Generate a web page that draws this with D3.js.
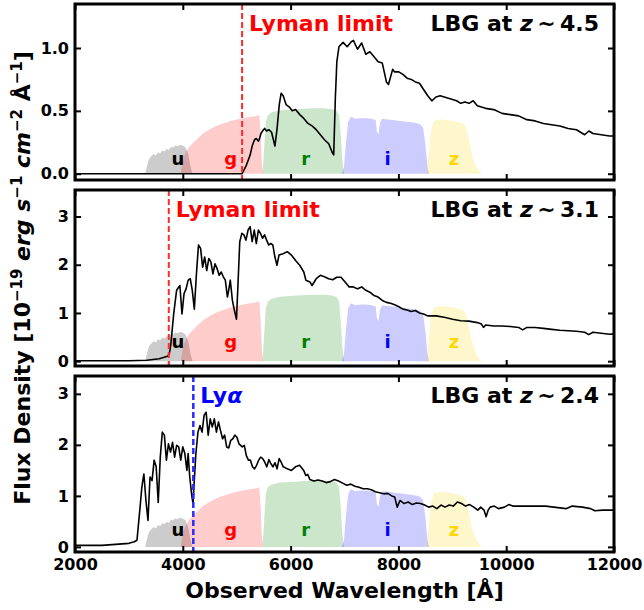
<!DOCTYPE html>
<html>
<head>
<meta charset="utf-8">
<script src="https://cdn.jsdelivr.net/npm/d3@7"></script>
<style>
  body { margin: 0; background: #fff; }
  text { font-family: "DejaVu Sans", sans-serif; font-weight: bold; }
</style>
</head>
<body>
<div id="container"></div>
<script>
// ---- data ----
let redshifts = ["4.5", "3.1", "2.4"];
let breakLabels = ["Lyman limit", "Lyman limit", "Ly"];
let breakWaves = [5100, 3740, 4195];
let yDomains = [[-0.05, 1.35], [-0.1, 3.55], [-0.1, 3.35]];
let yTicks = [[0, 0.5, 1.0], [0, 1, 2, 3], [0, 1, 2, 3]];
let xTicks = [2000, 4000, 6000, 8000, 10000, 12000];
let filterScale = [0.52, 1.38, 1.30];
let filterLabelY = [0.07, 0.27, 0.22];

let bandNames = ["u", "g", "r", "i", "z"];
let bandLabelWaves = [3910, 4890, 6280, 7800, 9030];

// filter responses, normalised to the r band peak
let filterU = [[3300,0],[3330,0.1],[3370,0.22],[3420,0.27],[3460,0.3],[3500,0.28],[3540,0.33],[3580,0.31],[3620,0.36],[3660,0.34],[3700,0.38],[3740,0.36],[3780,0.41],[3820,0.4],[3860,0.43],[3900,0.42],[3950,0.44],[4000,0.43],[4050,0.4],[4100,0.3],[4140,0.12],[4180,0]];
let filterG = [[3960,0],[3985,0.12],[4020,0.26],[4070,0.35],[4130,0.42],[4250,0.52],[4380,0.62],[4500,0.68],[4620,0.73],[4750,0.77],[4900,0.81],[5000,0.83],[5120,0.85],[5250,0.87],[5350,0.88],[5420,0.9],[5445,0.6],[5465,0.2],[5490,0]];
let filterR = [[5480,0],[5510,0.4],[5540,0.8],[5580,0.9],[5650,0.94],[5800,0.97],[6000,0.98],[6200,0.99],[6400,1.0],[6600,1.0],[6750,0.99],[6850,0.97],[6900,0.9],[6930,0.6],[6960,0.2],[6990,0]];
let filterI = [[6950,0],[6990,0.1],[7030,0.5],[7070,0.8],[7120,0.87],[7200,0.84],[7300,0.85],[7400,0.85],[7500,0.84],[7580,0.82],[7600,0.65],[7630,0.6],[7660,0.78],[7700,0.84],[7800,0.83],[7900,0.82],[8000,0.81],[8100,0.8],[8200,0.79],[8300,0.78],[8400,0.76],[8460,0.7],[8500,0.45],[8540,0.1],[8570,0]];
let filterZ = [[8520,0],[8560,0.3],[8600,0.65],[8650,0.8],[8700,0.82],[8800,0.83],[8900,0.82],[9000,0.81],[9100,0.79],[9200,0.77],[9250,0.72],[9300,0.55],[9350,0.35],[9400,0.2],[9450,0.1],[9500,0.04],[9550,0]];
let filters = [filterU, filterG, filterR, filterI, filterZ];

// LBG spectra [wavelength, flux]
let spec45 = [[2000,0],[5100,0],[5172,0.06],[5250,0.15],[5287,0.22],[5330,0.27],[5364,0.28],[5400,0.26],[5418,0.27],[5450,0.32],[5479,0.34],[5517,0.36],[5555,0.34],[5594,0.35],[5647,0.33],[5709,0.22],[5747,0.35],[5790,0.55],[5824,0.64],[5862,0.62],[5916,0.55],[5977,0.53],[6030,0.50],[6092,0.51],[6170,0.47],[6245,0.44],[6322,0.40],[6398,0.38],[6475,0.35],[6552,0.31],[6628,0.27],[6705,0.24],[6782,0.16],[6800,0.15],[6830,0.6],[6858,0.89],[6897,1.01],[6973,1.045],[7050,1.01],[7126,1.05],[7165,1.06],[7241,0.99],[7318,1.04],[7395,0.95],[7471,0.97],[7548,0.93],[7624,0.89],[7701,0.88],[7778,0.73],[7816,0.71],[7893,0.83],[7931,0.81],[8008,0.81],[8084,0.79],[8161,0.76],[8238,0.75],[8314,0.73],[8391,0.72],[8467,0.67],[8544,0.62],[8620,0.58],[8697,0.61],[8774,0.62],[8851,0.61],[8927,0.60],[9004,0.59],[9080,0.58],[9157,0.56],[9234,0.57],[9310,0.56],[9387,0.58],[9464,0.54],[9617,0.52],[9770,0.51],[9923,0.48],[10076,0.47],[10230,0.46],[10383,0.43],[10536,0.42],[10690,0.40],[10843,0.39],[10996,0.38],[11149,0.36],[11303,0.35],[11456,0.31],[11533,0.34],[11609,0.32],[11762,0.31],[11916,0.30],[12046,0.30]];
let spec31 = [[2000,0.01],[3000,0.01],[3333,0.02],[3563,0.05],[3716,0.1],[3750,0.15],[3778,0.35],[3831,0.98],[3885,1.47],[3946,1.57],[3985,0.98],[4023,1.4],[4061,1.5],[4100,1.68],[4138,1.71],[4176,1.47],[4214,1.08],[4253,1.81],[4291,2.41],[4330,2.34],[4368,1.95],[4406,2.16],[4444,1.88],[4483,2.13],[4521,2.06],[4559,1.81],[4598,2.02],[4636,1.92],[4674,1.78],[4713,1.85],[4751,1.75],[4789,1.68],[4828,1.33],[4851,1.47],[4881,1.68],[4920,1.26],[4958,1.05],[4996,0.87],[5019,1.47],[5057,2.48],[5096,2.65],[5134,2.62],[5172,2.51],[5211,2.72],[5249,2.79],[5287,2.48],[5326,2.72],[5364,2.44],[5402,2.72],[5441,2.65],[5479,2.55],[5517,2.62],[5555,2.51],[5594,2.41],[5632,2.44],[5670,2.41],[5709,2.16],[5747,1.99],[5785,2.2],[5862,2.23],[5939,2.27],[6015,2.2],[6092,2.09],[6169,1.99],[6245,1.85],[6283,1.68],[6360,1.64],[6398,1.57],[6475,1.71],[6552,1.78],[6628,1.75],[6705,1.71],[6782,1.69],[6858,1.74],[6935,1.74],[7011,1.64],[7088,1.54],[7165,1.54],[7241,1.5],[7318,1.54],[7395,1.47],[7471,1.43],[7548,1.36],[7624,1.33],[7701,1.26],[7778,1.22],[7854,1.2],[7931,1.17],[8008,1.13],[8084,1.08],[8161,1.06],[8238,1.03],[8314,1.05],[8391,1.0],[8467,0.98],[8544,0.94],[8697,0.94],[8851,0.91],[9004,0.87],[9157,0.84],[9310,0.83],[9464,0.8],[9540,0.77],[9579,0.70],[9617,0.75],[9770,0.73],[9923,0.73],[10076,0.72],[10230,0.70],[10306,0.65],[10383,0.70],[10536,0.70],[10690,0.68],[10843,0.66],[10996,0.64],[11149,0.63],[11303,0.62],[11456,0.60],[11533,0.55],[11609,0.60],[11762,0.58],[11916,0.56],[12046,0.57]];
let spec24 = [[2000,0.03],[2500,0.03],[3000,0.07],[3100,0.1],[3150,0.13],[3202,0.72],[3240,1.17],[3278,1.43],[3316,0.91],[3354,0.52],[3392,1.37],[3430,1.3],[3468,1.7],[3506,1.57],[3544,0.87],[3582,1.76],[3620,2.25],[3658,2.19],[3696,1.7],[3734,2.02],[3772,1.86],[3810,2.05],[3848,1.76],[3886,1.99],[3924,1.96],[3962,1.7],[4000,1.96],[4038,1.83],[4076,1.5],[4099,1.83],[4129,1.37],[4167,1.0],[4190,0.85],[4213,1.3],[4243,1.83],[4281,2.25],[4319,2.38],[4357,2.25],[4395,2.58],[4433,2.64],[4471,2.19],[4509,2.51],[4547,2.35],[4585,2.51],[4624,2.25],[4662,2.45],[4700,2.28],[4738,2.12],[4776,2.19],[4814,1.96],[4852,1.94],[4890,2.09],[4928,2.12],[4966,2.19],[5004,2.15],[5042,2.02],[5103,1.96],[5141,1.99],[5179,1.79],[5217,1.7],[5255,1.7],[5293,1.57],[5331,1.53],[5369,1.6],[5407,1.7],[5445,1.76],[5483,1.73],[5521,1.66],[5559,1.57],[5597,1.71],[5635,1.63],[5673,1.57],[5711,1.65],[5749,1.53],[5787,1.73],[5825,1.66],[5863,1.57],[5939,1.53],[6015,1.5],[6091,1.57],[6167,1.6],[6243,1.5],[6281,1.4],[6319,1.42],[6357,1.32],[6433,1.29],[6509,1.31],[6585,1.29],[6661,1.26],[6737,1.28],[6813,1.32],[6889,1.29],[6965,1.25],[7041,1.21],[7117,1.23],[7193,1.19],[7269,1.17],[7345,1.14],[7421,1.14],[7498,1.12],[7574,1.08],[7650,1.06],[7726,1.04],[7802,1.05],[7878,1.0],[7931,0.98],[7977,0.78],[8030,0.91],[8106,0.85],[8182,0.88],[8258,0.83],[8334,0.86],[8410,0.85],[8486,0.82],[8562,0.78],[8638,0.8],[8714,0.75],[8790,0.82],[8866,0.78],[8942,0.82],[9018,0.8],[9094,0.88],[9170,0.85],[9246,0.8],[9322,0.83],[9398,0.78],[9474,0.72],[9527,0.78],[9589,0.72],[9627,0.59],[9665,0.72],[9703,0.78],[9779,0.8],[9855,0.75],[9969,0.78],[10046,0.83],[10122,0.8],[10274,0.8],[10502,0.8],[10730,0.8],[10882,0.78],[11110,0.75],[11224,0.8],[11414,0.78],[11566,0.75],[11642,0.71],[11794,0.72],[12000,0.72]];
let spectra = [spec45, spec31, spec24];

// ---- styling ----
let bandFill = ["#808080", "#ff0000", "#008000", "#0000ff", "#ffd700"];
let bandAlpha = [0.4, 0.2, 0.2, 0.2, 0.2];
let bandText = ["#000000", "#ff0000", "#008000", "#0000ff", "#ffd700"];
let breakColor = ["#ff2a2a", "#ff2a2a", "#2a2aff"];

let width = 644, height = 610;
let left = 75, right = 614;
let panelTop = [4, 190, 376];
let panelH = 176;

let svg = d3.select("#container").append("svg")
  .attr("width", width)
  .attr("height", height);

let x = d3.scaleLinear().domain([2000, 12000]).range([left, right]);

spectra.forEach((spec, p) => {
  let y = d3.scaleLinear().domain(yDomains[p]).range([panelTop[p] + panelH, panelTop[p]]);
  let g = svg.append("g");

  g.append("clipPath").attr("id", "clip" + p)
    .append("rect")
    .attr("x", left).attr("y", panelTop[p])
    .attr("width", right - left).attr("height", panelH);

  let plot = g.append("g").attr("clip-path", `url(#clip${p})`);

  // filter curves
  let area = d3.area()
    .x(d => x(d[0]))
    .y0(y(0))
    .y1(d => y(d[1] * filterScale[p]));

  filters.forEach((f, i) => {
    plot.append("path")
      .datum(f)
      .attr("d", area)
      .attr("fill", bandFill[i])
      .attr("fill-opacity", bandAlpha[i]);
  });

  bandNames.forEach((b, i) => {
    plot.append("text")
      .attr("x", x(bandLabelWaves[i]))
      .attr("y", y(filterLabelY[p]))
      .attr("text-anchor", "middle")
      .attr("font-size", 18)
      .attr("fill", bandText[i])
      .text(b);
  });

  // spectrum
  let line = d3.line().x(d => x(d[0])).y(d => y(d[1]));
  plot.append("path")
    .datum(spec)
    .attr("d", line)
    .attr("fill", "none")
    .attr("stroke", "#000")
    .attr("stroke-width", 1.6)
    .attr("stroke-linejoin", "round");

  // break line
  plot.append("line")
    .attr("x1", x(breakWaves[p])).attr("x2", x(breakWaves[p]))
    .attr("y1", panelTop[p]).attr("y2", panelTop[p] + panelH)
    .attr("stroke", breakColor[p])
    .attr("stroke-width", p == 2 ? 2.5 : 2)
    .attr("stroke-dasharray", "6,3");

  let bl = g.append("text")
    .attr("x", x(breakWaves[p]) + 7)
    .attr("y", panelTop[p] + 27)
    .attr("font-size", 22)
    .attr("fill", p == 2 ? "#0000ff" : "#ff0000")
    .text(breakLabels[p]);
  if (p == 2) bl.append("tspan").attr("font-style", "italic").text("α");

  let title = g.append("text")
    .attr("x", right - 15)
    .attr("y", panelTop[p] + 27)
    .attr("text-anchor", "end")
    .attr("font-size", 22)
    .attr("fill", "#000")
    .text("LBG at ");
  title.append("tspan").attr("font-style", "italic").text("z");
  title.append("tspan").text("\u2009~\u2009" + redshifts[p]);

  // axes, ticks pointing inward on all four sides
  let fmt = p == 0 ? d3.format(".1f") : d3.format("d");
  g.append("g")
    .attr("transform", `translate(0,${panelTop[p] + panelH})`)
    .call(d3.axisBottom(x).tickValues(xTicks).tickSize(-6).tickPadding(7)
      .tickFormat(p == 2 ? d3.format("d") : ""))
    .call(a => a.select(".domain").remove())
    .call(a => a.selectAll("text").attr("font-size", 16).attr("font-family", "DejaVu Sans").attr("font-weight", "bold"));
  g.append("g")
    .attr("transform", `translate(0,${panelTop[p]})`)
    .call(d3.axisTop(x).tickValues(xTicks).tickSize(-6).tickFormat(""))
    .call(a => a.select(".domain").remove());
  g.append("g")
    .attr("transform", `translate(${left},0)`)
    .call(d3.axisLeft(y).tickValues(yTicks[p]).tickSize(-6).tickPadding(6).tickFormat(fmt))
    .call(a => a.select(".domain").remove())
    .call(a => a.selectAll("text").attr("font-size", 16).attr("font-family", "DejaVu Sans").attr("font-weight", "bold"));
  g.append("g")
    .attr("transform", `translate(${right},0)`)
    .call(d3.axisRight(y).tickValues(yTicks[p]).tickSize(-6).tickFormat(""))
    .call(a => a.select(".domain").remove());
  g.selectAll(".tick line").attr("stroke-width", 2);

  g.append("rect")
    .attr("x", left).attr("y", panelTop[p])
    .attr("width", right - left).attr("height", panelH)
    .attr("fill", "none")
    .attr("stroke", "#000")
    .attr("stroke-width", 3);
});

// axis titles
svg.append("text")
  .attr("x", (left + right) / 2)
  .attr("y", 598)
  .attr("text-anchor", "middle")
  .attr("font-size", 22)
  .text("Observed Wavelength [Å]");

let yl = svg.append("text")
  .attr("transform", `translate(30,${(panelTop[0] + panelTop[2] + panelH) / 2}) rotate(-90)`)
  .attr("text-anchor", "middle")
  .attr("font-size", 22);
yl.append("tspan").text("Flux Density [10");
yl.append("tspan").attr("dy", -8).attr("font-size", 15).text("\u221219");
yl.append("tspan").attr("dy", 8).text(" ");
yl.append("tspan").attr("font-style", "italic").text("erg s");
yl.append("tspan").attr("dy", -8).attr("font-size", 15).text("\u22121");
yl.append("tspan").attr("dy", 8).attr("font-style", "italic").text(" cm");
yl.append("tspan").attr("dy", -8).attr("font-size", 15).text("\u22122");
yl.append("tspan").attr("dy", 8).text(" Å");
yl.append("tspan").attr("dy", -8).attr("font-size", 15).text("\u22121");
yl.append("tspan").attr("dy", 8).text("]");
</script>
</body>
</html>
